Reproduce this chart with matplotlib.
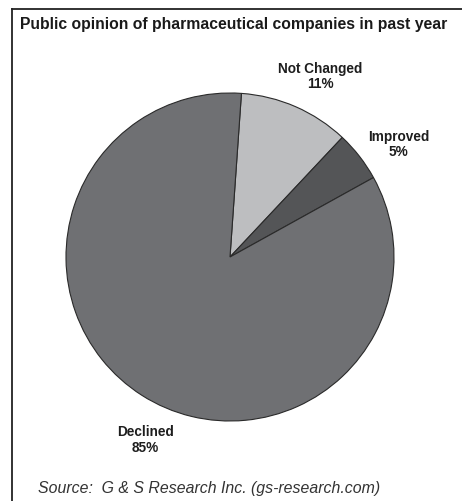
import matplotlib
matplotlib.use("Agg")
from matplotlib import pyplot as plt
from matplotlib.lines import Line2D

plt.rcParams['font.family'] = ['Liberation Sans', 'DejaVu Sans']

title = "Public opinion of pharmaceutical companies in past year"
source = "Source:  G & S Research Inc. (gs-research.com)"
labels = ["Not Changed", "Improved", "Declined"]
values = [11, 5, 85]
colors = ["#bdbec0", "#545557", "#6f7073"]
label_pos = [(0.549, 1.098), (1.03, 0.686), (-0.518, -1.116)]

W, H = 462, 501
fig = plt.figure(figsize=(W / 100, H / 100), dpi=100)

# pie centre at (230, 257) px from top-left, radius 164 px
cx, cy, r = 230, 257, 164
ax = fig.add_axes([(cx - r) / W, (H - cy - r) / H, 2 * r / W, 2 * r / H])

texts = [f"{l}\n{v}%" for l, v in zip(labels, values)]
wedges, lbls = ax.pie(values, labels=texts, colors=colors, startangle=86,
                      counterclock=False, normalize=True, labeldistance=1.2,
                      wedgeprops=dict(edgecolor="#2a2a2a", linewidth=0.8),
                      textprops=dict(ha="center", va="center", fontsize=9.8,
                                     fontweight="bold", color="#1e1e1e",
                                     linespacing=1.1))
for t, p in zip(lbls, label_pos):
    t.set_position(p)
ax.set_xlim(-1, 1)
ax.set_ylim(-1, 1)
ax.set_aspect("equal")
ax.axis("off")

# frame (top and left edges only are visible)
fig.add_artist(Line2D([12 / W, 1], [1 - 9 / H, 1 - 9 / H], color="#222222", lw=1.3))
fig.add_artist(Line2D([12 / W, 12 / W], [0, 1 - 9 / H], color="#222222", lw=1.3))

fig.text(20 / W, 1 - 25 / H, title, fontsize=11.35, fontweight="bold",
         color="#1a1a1a", va="center", ha="left")
fig.text(38 / W, 1 - 488 / H, source, fontsize=11.4, style="italic",
         color="#333333", va="center", ha="left")

fig.savefig("out.png", dpi=100)
